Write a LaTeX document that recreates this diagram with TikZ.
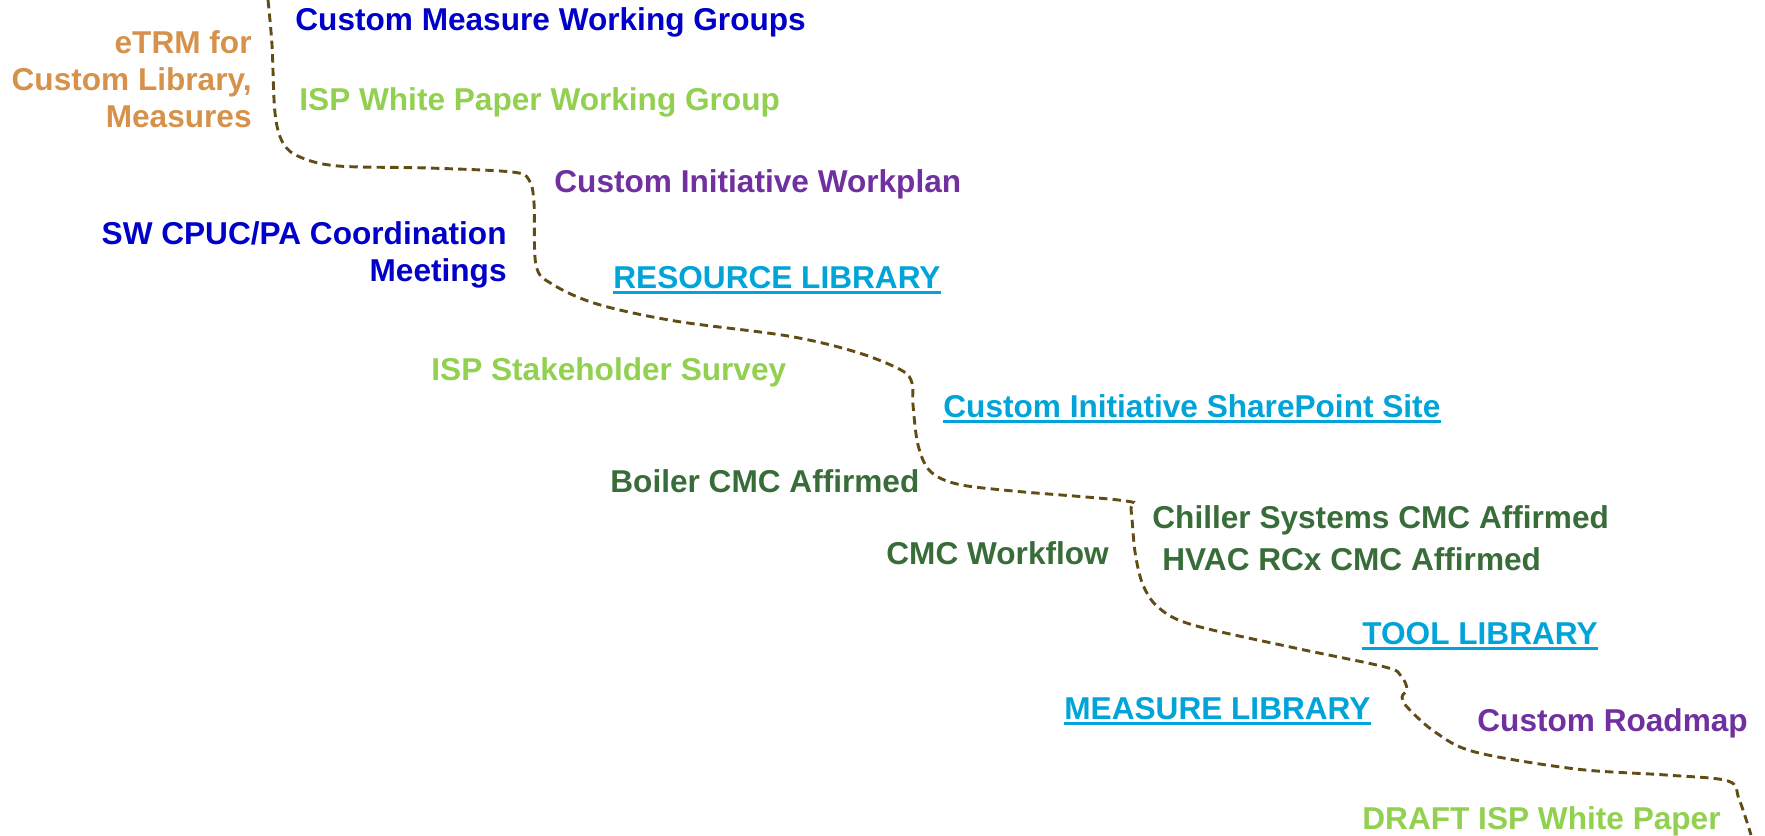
\documentclass[tikz,border=0pt]{standalone}
\usepackage{fontspec}
\setmainfont{Liberation Sans}
\begin{document}
\definecolor{navyblue}{RGB}{0,0,200}
\definecolor{tan}{RGB}{214,146,74}
\definecolor{lightgreen}{RGB}{146,208,80}
\definecolor{plum}{RGB}{112,48,160}
\definecolor{libcyan}{RGB}{0,164,216}
\definecolor{forest}{RGB}{56,108,56}
\definecolor{trail}{RGB}{96,76,20}
\begin{tikzpicture}[x=0.5pt,y=-0.5pt,
  lbl/.style={inner sep=0pt, font=\bfseries\fontsize{15.8}{18.5}\selectfont},
  item/.style={lbl, anchor=base west},
  linked/.style={item, text=libcyan},
  link rule/.style={draw=libcyan, line width=1.3pt},
  path trail/.style={draw=trail, line width=1.45pt, dash pattern=on 4.2pt off 2.6pt, line cap=butt}]
\useasboundingbox (0,0) rectangle (1765,835);
% underline beneath a hyperlink-style label
\newcommand\linkrule[1]{\draw[link rule] ([yshift=-2.3pt]#1.base west) -- ([yshift=-2.3pt]#1.base east);}

% the winding trail from top left to bottom right
\draw[path trail] plot[smooth, tension=0.55] coordinates {
  (268,0) (272,45) (275,113) (283,143) (300,157) (338,166) (428,168) (512,172)
  (529,180) (534,203) (536,265) (552,284) (597,304) (675,321) (788,336)
  (856,352) (901,370) (912,383) (913,405) (918,445) (930,471) (957,484)
  (1013,491) (1126,501) (1131,510) (1135,552) (1143,585) (1159,608)
  (1193,625) (1295,648) (1385,667) (1401,676) (1407,689) (1402,697)
  (1408,708) (1435,732) (1475,752) (1576,769) (1666,775) (1728,781)
  (1739,799) (1751,835)};

% left-hand labels
\node[lbl, text=tan, align=right, anchor=east] (etrm) at (252,79)
  {eTRM for\\Custom Library,\\Measures};
\node[lbl, text=navyblue, align=right, anchor=east] (swcpuc) at (507,255)
  {SW CPUC/PA Coordination\\Meetings};

% milestones along the trail
\node[item, text=navyblue] (cmwg) at (295,31) {Custom Measure Working Groups};
\node[item, text=lightgreen] (ispwg) at (299,110) {ISP White Paper Working Group};
\node[item, text=plum] (ciw) at (554,192) {Custom Initiative Workplan};
\node[linked] (reslib) at (613,288) {RESOURCE LIBRARY};
\node[item, text=lightgreen] (isps) at (431,380) {ISP Stakeholder Survey};
\node[linked] (sp) at (943,417) {Custom Initiative SharePoint Site};
\node[item, text=forest] (boiler) at (610,492) {Boiler CMC Affirmed};
\node[item, text=forest] (chiller) at (1152,528) {Chiller Systems CMC Affirmed};
\node[item, text=forest] (cmcwf) at (886,564) {CMC Workflow};
\node[item, text=forest] (hvac) at (1162,570) {HVAC RCx CMC Affirmed};
\node[linked] (toollib) at (1362,644) {TOOL LIBRARY};
\node[linked] (measlib) at (1064,719) {MEASURE LIBRARY};
\node[item, text=plum] (roadmap) at (1477,731) {Custom Roadmap};
\node[item, text=lightgreen] (draft) at (1362,829) {DRAFT ISP White Paper};

\linkrule{reslib}
\linkrule{sp}
\linkrule{toollib}
\linkrule{measlib}
\end{tikzpicture}
\end{document}
